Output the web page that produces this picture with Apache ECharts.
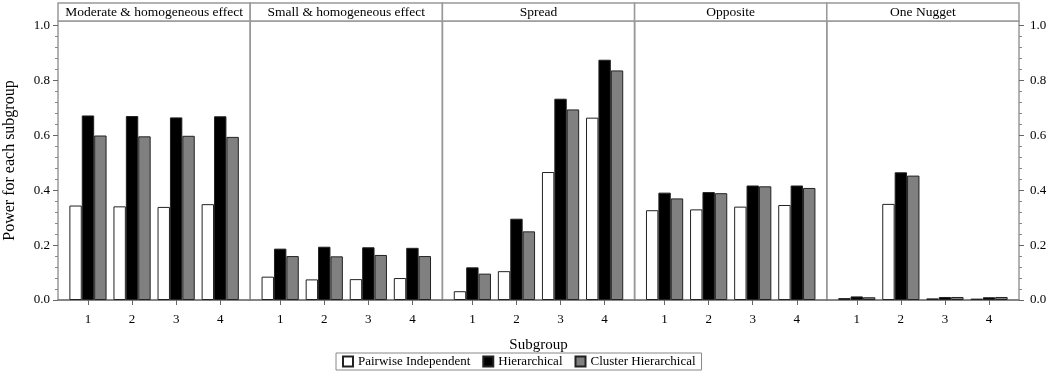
<!DOCTYPE html>
<html>
<head>
<meta charset="utf-8">
<script src="https://cdn.jsdelivr.net/npm/echarts@6/dist/echarts.min.js"></script>
<style>
  html, body { margin: 0; padding: 0; background: #fff; }
  #chart { width: 1050px; height: 380px; }
</style>
</head>
<body>
<div id="chart"></div>
<script>
const panelTitles = ['Moderate & homogeneous effect', 'Small & homogeneous effect', 'Spread', 'Opposite', 'One Nugget'];
const subgroups = [1, 2, 3, 4];
const yTicks = [0, 0.2, 0.4, 0.6, 0.8, 1.0];
const yMinorTicks = [0.04, 0.08, 0.12, 0.16, 0.24, 0.28, 0.32, 0.36, 0.44, 0.48, 0.52, 0.56,
  0.64, 0.68, 0.72, 0.76, 0.84, 0.88, 0.92, 0.96];
const seriesNames = ['Pairwise Independent', 'Hierarchical', 'Cluster Hierarchical'];

// one row per panel, one value per subgroup
const pairwise = [
  [0.344, 0.341, 0.339, 0.349],
  [0.085, 0.075, 0.076, 0.080],
  [0.032, 0.105, 0.466, 0.664],
  [0.327, 0.330, 0.340, 0.346],
  [0.007, 0.350, 0.006, 0.005]
];
const hierarchical = [
  [0.672, 0.670, 0.665, 0.669],
  [0.187, 0.194, 0.192, 0.190],
  [0.119, 0.296, 0.733, 0.875],
  [0.391, 0.393, 0.417, 0.417],
  [0.013, 0.465, 0.011, 0.010]
];
const cluster = [
  [0.599, 0.596, 0.598, 0.594],
  [0.160, 0.159, 0.164, 0.160],
  [0.096, 0.250, 0.694, 0.836],
  [0.370, 0.389, 0.414, 0.408],
  [0.010, 0.453, 0.011, 0.011]
];

const seriesData = [pairwise, hierarchical, cluster];
const seriesColors = ['#ffffff', '#000000', '#808080'];

const FONT = 'Liberation Serif';
const LEFT = 58, PANEL_W = 192.2, TOP = 21, HEIGHT = 279;
const Y_MAX = 1.016;

const chart = echarts.init(document.getElementById('chart'), null, { renderer: 'canvas' });

const grids = [], xAxes = [], yAxes = [], series = [], graphics = [];

panelTitles.forEach((title, p) => {
  const left = LEFT + p * PANEL_W;
  grids.push({
    left: left, top: TOP, width: PANEL_W, height: HEIGHT,
    show: true, borderColor: '#999', borderWidth: 1.5, backgroundColor: 'transparent',
    containLabel: false, outerBoundsMode: 'none'
  });
  xAxes.push({
    type: 'value', gridIndex: p, min: 0.32, max: 4.68,
    axisLine: { show: true, lineStyle: { color: '#777', width: 1.5 } },
    axisTick: { show: true, length: 5, customValues: subgroups, lineStyle: { color: '#666' } },
    axisLabel: {
      customValues: subgroups, margin: 13, color: '#000', fontFamily: FONT, fontSize: 13,
      formatter: v => String(v)
    },
    splitLine: { show: false }
  });

  const isLeft = p === 0, isRight = p === panelTitles.length - 1;
  const yBase = {
    type: 'value', gridIndex: p, min: 0, max: Y_MAX,
    axisLine: { show: false }, splitLine: { show: false }
  };
  if (isLeft || isRight) {
    yAxes.push(Object.assign({}, yBase, {
      position: isLeft ? 'left' : 'right',
      name: isLeft ? 'Power for each subgroup' : '',
      nameLocation: 'middle', nameGap: 40, nameRotate: 90,
      nameTextStyle: { fontFamily: FONT, fontSize: 16, color: '#000' },
      axisTick: { show: true, length: 5, customValues: yTicks, lineStyle: { color: '#666' } },
      axisLabel: {
        customValues: yTicks, margin: isLeft ? 8 : 11, color: '#000', fontFamily: FONT, fontSize: 13,
        formatter: v => v.toFixed(1)
      }
    }));
    yAxes.push(Object.assign({}, yBase, {
      position: isLeft ? 'left' : 'right',
      axisTick: { show: true, length: 3, customValues: yMinorTicks, lineStyle: { color: '#888' } },
      axisLabel: { show: false }
    }));
  } else {
    yAxes.push(Object.assign({}, yBase, { show: false }));
  }
  const yIndex = yAxes.length - (isLeft || isRight ? 2 : 1);

  seriesNames.forEach((name, s) => {
    series.push({
      name: name, type: 'bar', xAxisIndex: p, yAxisIndex: yIndex,
      data: subgroups.map((g, i) => [g, seriesData[s][p][i]]),
      barWidth: 12.4, barGap: '0%',
      itemStyle: { color: seriesColors[s], borderColor: '#222', borderWidth: 1 },
      emphasis: { disabled: true },
      animation: false
    });
  });

  graphics.push({
    type: 'rect', shape: { x: left, y: 3, width: PANEL_W, height: TOP - 3 },
    style: { fill: '#fff', stroke: '#999', lineWidth: 1.5 }
  });
  graphics.push({
    type: 'text', x: left + PANEL_W / 2, y: 12,
    style: { text: title, fontFamily: FONT, fontSize: 13.5, fill: '#000', align: 'center', verticalAlign: 'middle' }
  });
});

graphics.push({
  type: 'text', x: LEFT + PANEL_W * 2.5, y: 345,
  style: { text: 'Subgroup', fontFamily: FONT, fontSize: 15, fill: '#000', align: 'center', verticalAlign: 'middle' }
});

chart.setOption({
  animation: false,
  backgroundColor: '#fff',
  grid: grids,
  xAxis: xAxes,
  yAxis: yAxes,
  series: series,
  graphic: graphics,
  legend: {
    data: seriesNames, left: 336, top: 353,
    orient: 'horizontal', icon: 'rect', itemWidth: 10, itemHeight: 10, itemGap: 12,
    padding: [2, 6, 2, 6], borderColor: '#888', borderWidth: 1,
    textStyle: { fontFamily: FONT, fontSize: 13, color: '#000' },
    selectedMode: false
  },
  tooltip: { show: false }
});
</script>
</body>
</html>
